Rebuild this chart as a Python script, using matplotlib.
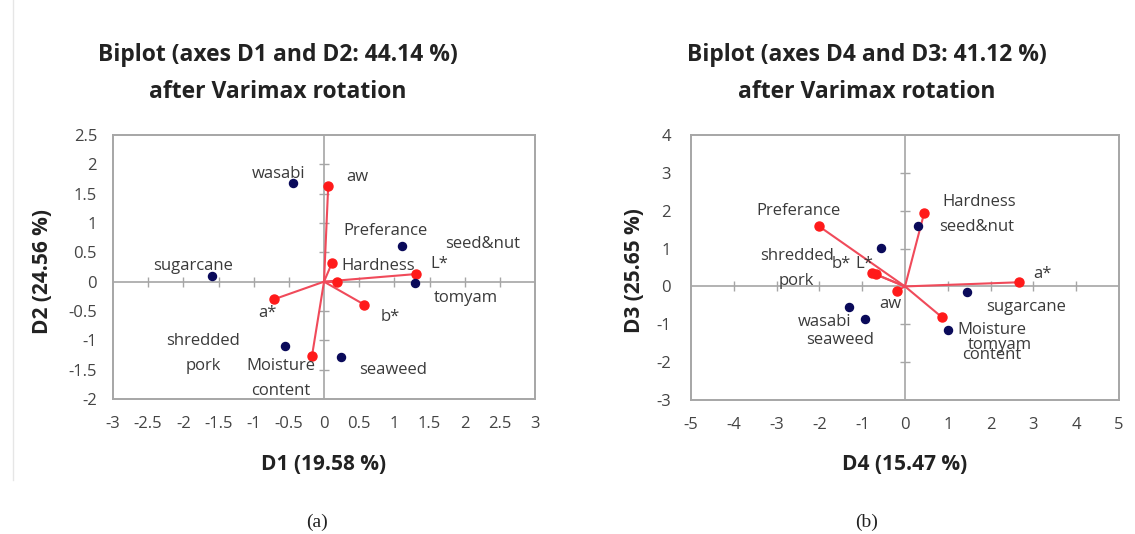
import matplotlib
matplotlib.use("Agg")
import matplotlib.pyplot as plt
import numpy as np

# ---------------- data ----------------
# Panel (a): D1 vs D2
a_obs_names = ["wasabi", "sugarcane", "seed&nut", "tomyam", "shredded pork", "seaweed"]
a_obs_x = [-0.44, -1.59, 1.11, 1.29, -0.56, 0.24]
a_obs_y = [1.68, 0.10, 0.60, -0.03, -1.09, -1.28]

a_var_names = ["aw", "Hardness", "Preferance", "L*", "b*", "a*", "Moisture content"]
a_var_x = [0.06, 0.11, 0.18, 1.31, 0.57, -0.71, -0.17]
a_var_y = [1.63, 0.31, -0.01, 0.13, -0.39, -0.30, -1.26]

# Panel (b): D4 vs D3
b_obs_names = ["seed&nut", "shredded pork", "sugarcane", "wasabi", "seaweed", "tomyam"]
b_obs_x = [0.31, -0.55, 1.46, -1.30, -0.93, 1.01]
b_obs_y = [1.59, 1.02, -0.14, -0.54, -0.85, -1.15]

b_var_names = ["Preferance", "Hardness", "b*", "L*", "a*", "aw", "Moisture content"]
b_var_x = [-2.01, 0.45, -0.78, -0.68, 2.67, -0.18, 0.87]
b_var_y = [1.59, 1.95, 0.36, 0.32, 0.11, -0.11, -0.82]

a_xticks = [-3, -2.5, -2, -1.5, -1, -0.5, 0, 0.5, 1, 1.5, 2, 2.5, 3]
a_yticks = [-2, -1.5, -1, -0.5, 0, 0.5, 1, 1.5, 2, 2.5]
b_xticks = [-5, -4, -3, -2, -1, 0, 1, 2, 3, 4, 5]
b_yticks = [-3, -2, -1, 0, 1, 2, 3, 4]

a_title = "Biplot (axes D1 and D2: 44.14 %)\nafter Varimax rotation"
b_title = "Biplot (axes D4 and D3: 41.12 %)\nafter Varimax rotation"
a_xlabel, a_ylabel = "D1 (19.58 %)", "D2 (24.56 %)"
b_xlabel, b_ylabel = "D4 (15.47 %)", "D3 (25.65 %)"

# ---------------- label layout (text positions, data units) ----------------
a_label_pos = {
    "wasabi": (-0.64, 1.84, "wasabi"),
    "sugarcane": (-1.86, 0.27, "sugarcane"),
    "seed&nut": (2.26, 0.64, "seed&nut"),
    "tomyam": (2.02, -0.27, "tomyam"),
    "shredded pork": (-1.72, -1.22, "shredded\npork"),
    "seaweed": (0.98, -1.51, "seaweed"),
    "aw": (0.48, 1.79, "aw"),
    "Hardness": (0.77, 0.27, "Hardness"),
    "Preferance": (0.87, 0.87, "Preferance"),
    "L*": (1.64, 0.30, "L*"),
    "b*": (0.94, -0.60, "b*"),
    "a*": (-0.81, -0.53, "a*"),
    "Moisture content": (-0.61, -1.65, "Moisture\ncontent"),
}
b_label_pos = {
    "seed&nut": (1.67, 1.56, "seed&nut"),
    "shredded pork": (-2.53, 0.48, "shredded\npork"),
    "sugarcane": (2.84, -0.54, "sugarcane"),
    "wasabi": (-1.87, -0.93, "wasabi"),
    "seaweed": (-1.52, -1.42, "seaweed"),
    "tomyam": (2.22, -1.55, "tomyam"),
    "Preferance": (-2.48, 2.00, "Preferance"),
    "Hardness": (1.74, 2.22, "Hardness"),
    "b*": (-1.48, 0.59, "b*"),
    "L*": (-0.95, 0.59, "L*"),
    "a*": (3.22, 0.34, "a*"),
    "aw": (-0.35, -0.47, "aw"),
    "Moisture content": (2.02, -1.48, "Moisture\ncontent"),
}

FONT = ["Open Sans", "DejaVu Sans"]
plt.rcParams["font.family"] = FONT
GRAY = "#a6a6a6"
TXT = "#3a3a3a"
NAVY = "#0a0a5a"
RED = "#ff1a1a"
LINE = "#f04a5a"

fig = plt.figure(figsize=(11.35, 5.34), dpi=100)
fig.patch.set_facecolor("white")


def panel(rect, obs_x, obs_y, obs_names, var_x, var_y, var_names,
          xticks, yticks, label_pos, ypad):
    ax = fig.add_axes(rect)
    ax.set_xlim(xticks[0], xticks[-1])
    ax.set_ylim(yticks[0], yticks[-1])
    for s in ax.spines.values():
        s.set_color(GRAY)
        s.set_linewidth(1.4)
    ax.axhline(0, color=GRAY, lw=1.2, zorder=1)
    ax.axvline(0, color=GRAY, lw=1.2, zorder=1)
    # small cross ticks on zero lines
    xt = [t for t in xticks[1:-1] if t != 0]
    yt = [t for t in yticks[1:-1] if t != 0]
    ax.plot(xt, [0] * len(xt), ls="none", marker="|", ms=7, mew=1.0, color=GRAY, zorder=1)
    ax.plot([0] * len(yt), yt, ls="none", marker="_", ms=7, mew=1.0, color=GRAY, zorder=1)

    ax.set_xticks(xticks)
    ax.set_yticks(yticks)
    ax.set_xticklabels([("%g" % t) for t in xticks])
    ax.set_yticklabels([("%g" % t) for t in yticks])
    ax.tick_params(length=0, labelsize=12, labelcolor="#444444")
    ax.tick_params(axis="x", pad=12)
    ax.tick_params(axis="y", pad=ypad)

    for vx, vy in zip(var_x, var_y):
        ax.plot([0, vx], [0, vy], color=LINE, lw=1.5, zorder=2)
    ax.plot(var_x, var_y, ls="none", marker="o", ms=6.5, color=RED, zorder=3)
    ax.plot(obs_x, obs_y, ls="none", marker="o", ms=5.8, color=NAVY, zorder=3)

    for name in list(obs_names) + list(var_names):
        tx, ty, txt = label_pos[name]
        ax.text(tx, ty, txt, ha="center", va="center", fontsize=12,
                color=TXT, linespacing=1.78, zorder=4)
    return ax


axa = panel([113 / 1135, 135 / 534, 422 / 1135, 264 / 534],
            a_obs_x, a_obs_y, a_obs_names, a_var_x, a_var_y, a_var_names,
            a_xticks, a_yticks, a_label_pos, 11.5)
axb = panel([691 / 1135, 134 / 534, 428 / 1135, 265 / 534],
            b_obs_x, b_obs_y, b_obs_names, b_var_x, b_var_y, b_var_names,
            b_xticks, b_yticks, b_label_pos, 14.5)

# titles
for cx, t in [(278, a_title), (867, b_title)]:
    fig.text(cx / 1135, 1 - 73.5 / 534, t, ha="center", va="center",
             fontsize=16.5, fontweight="bold", color="#222222", linespacing=1.71)

# axis labels (centred on each axes)
for ax, xl, yl, yx in [(axa, a_xlabel, a_ylabel, 42), (axb, b_xlabel, b_ylabel, 634)]:
    pos = ax.get_position()
    fig.text((pos.x0 + pos.x1) / 2, 1 - 465 / 534, xl, ha="center", va="center",
             fontsize=15, fontweight="bold", color="#222222")
    fig.text(yx / 1135, 1 - 271 / 534, yl, ha="center", va="center",
             fontsize=15, fontweight="bold", color="#222222", rotation=90)

# captions
fig.text(317 / 1135, 1 - 522 / 534, "(a)", ha="center", va="center",
         fontsize=14, family=["Liberation Serif", "DejaVu Serif"], color="#222222")
fig.text(867 / 1135, 1 - 522 / 534, "(b)", ha="center", va="center",
         fontsize=14, family=["Liberation Serif", "DejaVu Serif"], color="#222222")

# faint frame line of the original picture
fig.add_artist(plt.Line2D([13 / 1135, 13 / 1135], [1 - 480 / 534, 1.0],
                          color="#e6e6e6", lw=1.0))

fig.savefig("out.png", dpi=100, facecolor="white")
